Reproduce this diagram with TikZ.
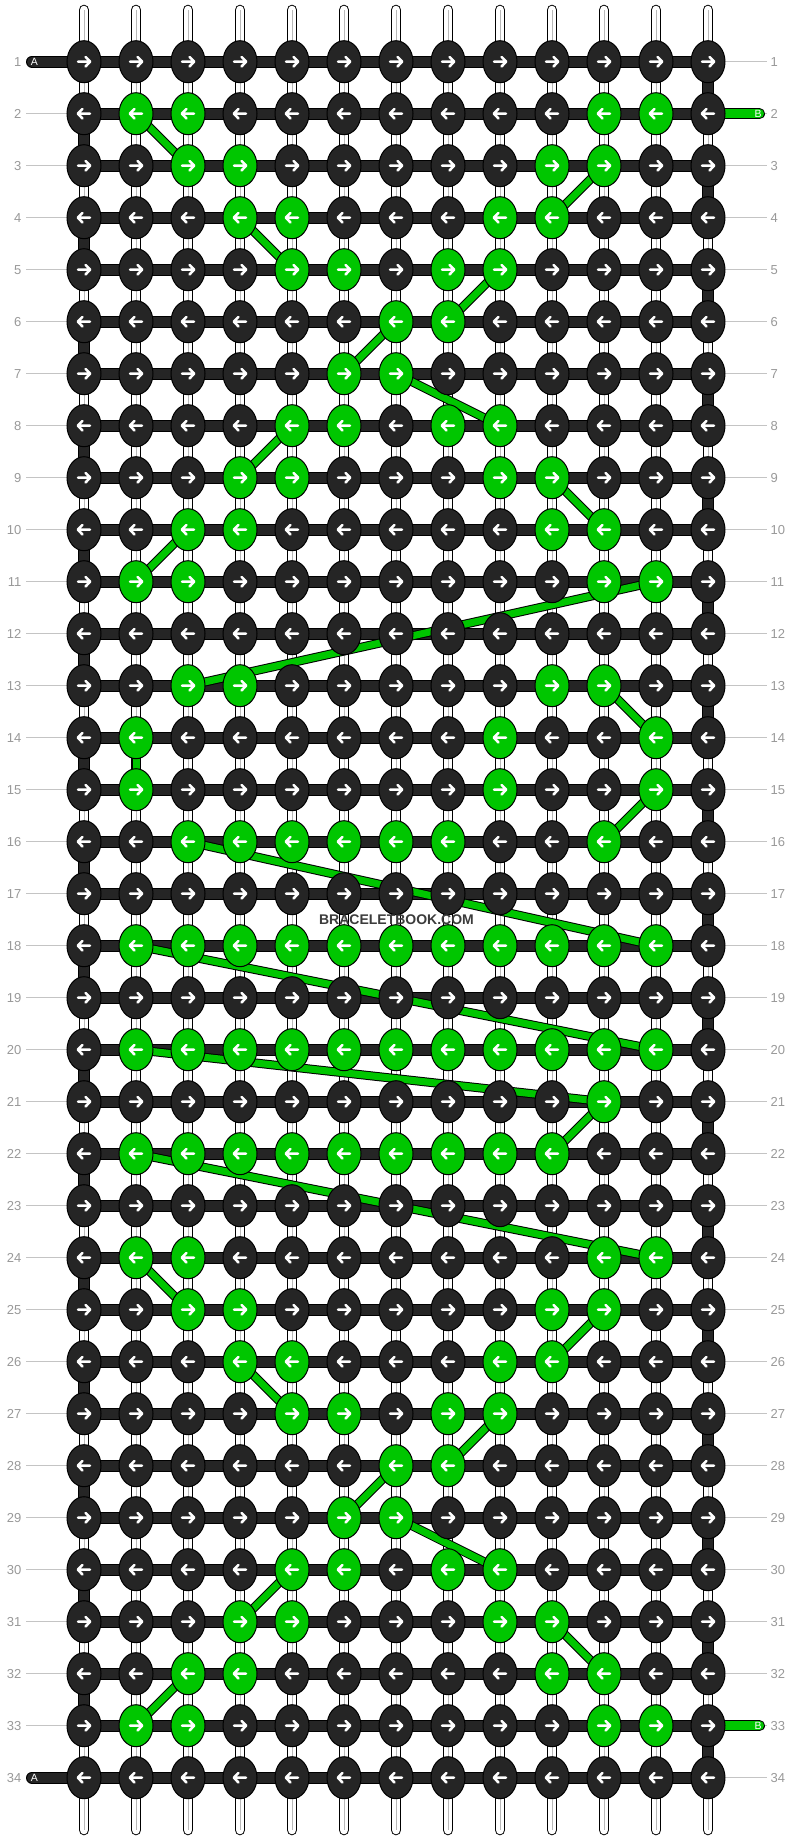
\documentclass[tikz,border=0pt]{standalone}
\usepackage{fontspec}
\setmainfont{Liberation Sans}
\usetikzlibrary{shapes.geometric}
\pgfdeclarelayer{warps}
\pgfdeclarelayer{strand}
\pgfdeclarelayer{greenl}
\pgfsetlayers{warps,strand,greenl,main}
\definecolor{knotdark}{HTML}{252525}
\definecolor{knotgreen}{HTML}{00C600}
\definecolor{lblgray}{HTML}{999999}
\definecolor{rulegray}{HTML}{C4C4C4}
\definecolor{warpmid}{HTML}{B8B8B8}
\definecolor{logogray}{HTML}{3C3C3C}
\makeatletter
\newcommand\setknotfill[2]{%
  \expandafter\let\expandafter\kn@list\csname kngr@#1\endcsname
  \ifx\kn@list\relax\def\kfill{knotdark}\else
    \edef\kn@tmp{\noexpand\in@{,#2,}{\kn@list}}\kn@tmp
    \ifin@\def\kfill{knotgreen}\else\def\kfill{knotdark}\fi
  \fi}
\newcommand\greenrow[2]{\expandafter\def\csname kngr@#1\endcsname{,#2,}}
\makeatother
\greenrow{2}{2,3,11,12}
\greenrow{3}{3,4,10,11}
\greenrow{4}{4,5,9,10}
\greenrow{5}{5,6,8,9}
\greenrow{6}{7,8}
\greenrow{7}{6,7}
\greenrow{8}{5,6,8,9}
\greenrow{9}{4,5,9,10}
\greenrow{10}{3,4,10,11}
\greenrow{11}{2,3,11,12}
\greenrow{13}{3,4,10,11}
\greenrow{14}{2,9,12}
\greenrow{15}{2,9,12}
\greenrow{16}{3,4,5,6,7,8,11}
\greenrow{18}{2,3,4,5,6,7,8,9,10,11,12}
\greenrow{20}{2,3,4,5,6,7,8,9,10,11,12}
\greenrow{21}{11}
\greenrow{22}{2,3,4,5,6,7,8,9,10}
\greenrow{24}{2,3,11,12}
\greenrow{25}{3,4,10,11}
\greenrow{26}{4,5,9,10}
\greenrow{27}{5,6,8,9}
\greenrow{28}{7,8}
\greenrow{29}{6,7}
\greenrow{30}{5,6,8,9}
\greenrow{31}{4,5,9,10}
\greenrow{32}{3,4,10,11}
\greenrow{33}{2,3,11,12}
\begin{document}
\begin{tikzpicture}[x=1pt,y=-1pt,
  knot/.style={ellipse, draw=black, line width=1pt, minimum width=34pt, minimum height=42pt, inner sep=0pt},
  arr/.style={white, line width=2.5pt, line cap=round, line join=round},
  strandline/.style={draw=black, line width=1pt, double=knotdark, double distance=10pt},
  bstrand/.style={draw=black, line width=1pt, double=knotgreen, double distance=9pt, line cap=round},
  gline/.style={draw=black, line width=1pt, double=knotgreen, double distance=7pt},
  warpline/.style={draw=black, line width=1pt, double=white, double distance=8.6pt, line cap=round},
  warpmidline/.style={draw=warpmid, line width=0.9pt},
  ruleline/.style={draw=rulegray, line width=1pt},
  rowlbl/.style={text=lblgray, font=\fontsize{13}{13}\selectfont, inner sep=0pt},
  tabletter/.style={text=white, font=\fontsize{10.5}{10.5}\selectfont, inner sep=0pt},
]
\useasboundingbox (0,0) rectangle (792,1840);

% knots with arrows
\foreach \r in {1,...,34}{
  \foreach \c in {1,...,13}{
    \setknotfill{\r}{\c}
    \node[knot, fill=\kfill] (k-\r-\c) at ({84+52*(\c-1)}, {61.7+52*(\r-1)}) {};
    \ifodd\r\relax\def\s{1}\else\def\s{-1}\fi
    \begin{scope}[shift={(k-\r-\c.center)}, xscale=\s]
      \draw[arr] (-6,0) -- (6,0) (1.6,-4.7) -- (6.2,0) -- (1.6,4.7);
    \end{scope}
  }
}

% background, warps, row rules
\begin{pgfonlayer}{warps}
  \fill[white] (0,0) rectangle (792,1840);
  \foreach \c in {1,...,13}{
    \coordinate (wt-\c) at ({84+52*(\c-1)}, 10);
    \coordinate (wb-\c) at ({84+52*(\c-1)}, 1830);
    \draw[warpline] (wt-\c) -- (wb-\c);
    \draw[warpmidline] (wt-\c) -- (wb-\c);
  }
  \foreach \r in {1,...,34}{
    \coordinate (rl-\r) at (26, {61.7+52*(\r-1)});
    \coordinate (rr-\r) at (766.5, {61.7+52*(\r-1)});
    \draw[ruleline] (rl-\r) -- (k-\r-1.west);
    \draw[ruleline] (k-\r-13.east) -- (rr-\r);
  }
\end{pgfonlayer}
\foreach \r in {1,...,34}{
  \node[rowlbl, anchor=east] (lblL-\r) at (21.5, {61.7+52*(\r-1)}) {\r};
  \node[rowlbl, anchor=west] (lblR-\r) at (770.5, {61.7+52*(\r-1)}) {\r};
}

% working strand
\begin{pgfonlayer}{strand}
  \foreach \r in {1,...,34}{\draw[strandline] (k-\r-1.center) -- (k-\r-13.center);}
  \foreach \r in {1,3,...,33}{\pgfmathtruncatemacro\rn{\r+1}\draw[strandline] (k-\r-13.center) -- (k-\rn-13.center);}
  \foreach \r in {2,4,...,32}{\pgfmathtruncatemacro\rn{\r+1}\draw[strandline] (k-\r-1.center) -- (k-\rn-1.center);}
  \coordinate (aTop) at (32,61.7);
  \coordinate (aBot) at (32,1777.7);
  \draw[strandline, line cap=round] (aTop) -- (k-1-1.center);
  \draw[strandline, line cap=round] (aBot) -- (k-34-1.center);
  \coordinate (bTop) at (759.5,113.7);
  \coordinate (bBot) at (759.5,1725.7);
  \draw[bstrand] (k-2-13.center) -- (bTop);
  \draw[bstrand] (k-33-13.center) -- (bBot);
\end{pgfonlayer}
\node[tabletter] (tabA1) at (34.5,61.7) {A};
\node[tabletter] (tabA2) at (34.5,1777.7) {A};
\node[tabletter] (tabB1) at (758,113.7) {B};
\node[tabletter] (tabB2) at (758,1725.7) {B};

% green string path
\begin{pgfonlayer}{greenl}
  \foreach \pa/\qa/\pb/\qb in {2/2/3/3, 3/11/4/10, 4/4/5/5, 5/9/6/8, 6/7/7/6, 7/7/8/9, 8/5/9/4, 9/10/10/11, 10/3/11/2, 11/12/13/3, 13/11/14/12, 14/2/15/2, 15/12/16/11, 16/3/18/12, 18/2/20/12, 20/2/21/11, 21/11/22/10, 22/2/24/12, 24/2/25/3, 25/11/26/10, 26/4/27/5, 27/9/28/8, 28/7/29/6, 29/7/30/9, 30/5/31/4, 31/10/32/11, 32/3/33/2}
    \draw[gline] (k-\pa-\qa.center) -- (k-\pb-\qb.center);
\end{pgfonlayer}

\node[font=\bfseries\fontsize{14}{14}\selectfont, text=logogray, inner sep=0pt] (logo) at (396.5,919.5) {BRACELETBOOK.COM};
\end{tikzpicture}
\end{document}
